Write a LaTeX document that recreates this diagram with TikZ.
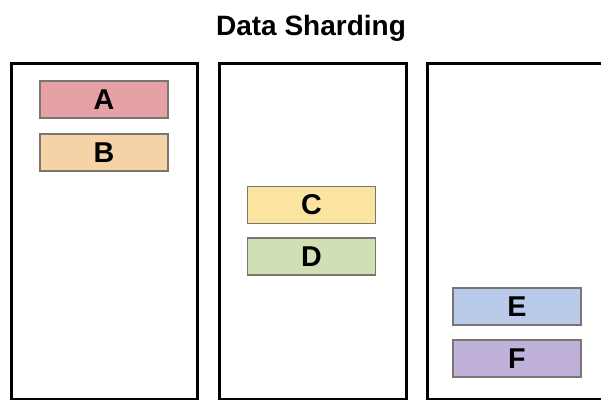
\documentclass[tikz,border=0pt]{standalone}
\usepackage{fontspec}
\setmainfont{Liberation Sans}
\begin{document}
\definecolor{cA}{HTML}{E5A1A5}
\definecolor{cB}{HTML}{F6D2A7}
\definecolor{cC}{HTML}{FBE3A0}
\definecolor{cD}{HTML}{CFE0B4}
\definecolor{cE}{HTML}{B9CAEA}
\definecolor{cF}{HTML}{BFB1DA}
\definecolor{edgegray}{HTML}{7A7472}
\begin{tikzpicture}[x=0.75pt,y=-0.75pt,
  shard/.style={draw=black,line width=2.4pt,fill=white,inner sep=0pt,minimum width=#1*0.75pt,minimum height=336*0.75pt},
  item/.style={draw=edgegray,line width=1.1pt,fill=#1,inner sep=0pt,minimum width=128*0.75pt,minimum height=37*0.75pt,font=\fontsize{21.5}{24}\selectfont\bfseries},
  titlestyle/.style={font=\fontsize{21}{24}\selectfont\bfseries,inner sep=0pt}]
\fill[white] (0,0) rectangle (601,400);
\useasboundingbox (0,0) rectangle (601,400);
\begin{scope}
\clip (0,0) rectangle (601,400);
\node[titlestyle,anchor=base] (title) at (311,35) {Data Sharding};
\node[shard=186,anchor=north west] (s1) at (10,62) {};
\node[shard=187,anchor=north west] (s2) at (218,62) {};
\node[shard=400,anchor=north west] (s3) at (425.5,62) {};
\node[item=cA] (A) at (104,99.5) {A};
\node[item=cB] (B) at (104,152.5) {B};
\node[item=cC] (C) at (311.5,205) {C};
\node[item=cD] (D) at (311.5,256.5) {D};
\node[item=cE] (E) at (517,306.5) {E};
\node[item=cF] (F) at (517,358.5) {F};
\end{scope}
\end{tikzpicture}
\end{document}
